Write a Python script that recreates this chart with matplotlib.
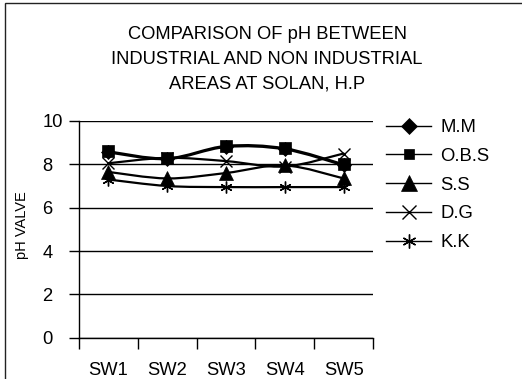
import numpy as np
import matplotlib
matplotlib.use("Agg")
from matplotlib import pyplot as plt
from matplotlib.path import Path
from matplotlib.patches import PathPatch, Rectangle
from matplotlib.lines import Line2D

plt.rcParams['font.family'] = ['Liberation Sans', 'DejaVu Sans']

# data
sites = ["SW1", "SW2", "SW3", "SW4", "SW5"]
mm = [8.55, 8.24, 8.8, 8.69, 7.95]
obs = [8.6, 8.28, 8.85, 8.74, 8.0]
ss = [7.65, 7.35, 7.6, 7.95, 7.35]
dg = [8.05, 8.3, 8.15, 7.9, 8.5]
kk = [7.3, 7.0, 6.95, 6.95, 6.95]

series_names = ["M.M", "O.B.S", "S.S", "D.G", "K.K"]
series_vals = [mm, obs, ss, dg, kk]
markers = ["D", "s", "^", "x", (6, 2, 0)]
msizes = [7, 8, 10.5, 8.5, 8.5]
leg_sizes = [8, 7.5, 11, 9.5, 10]
title = "COMPARISON OF pH BETWEEN\nINDUSTRIAL AND NON INDUSTRIAL\nAREAS AT SOLAN, H.P"


def smooth_path(xs, ys):
    # excel style smoothed line: catmull-rom segments as cubic beziers
    p = np.column_stack([xs, ys]).astype(float)
    n = len(p)
    verts = [p[0]]
    codes = [Path.MOVETO]
    for i in range(n - 1):
        prev = p[i - 1] if i > 0 else p[i]
        nxt = p[i + 2] if i + 2 < n else p[i + 1]
        c1 = p[i] + (p[i + 1] - prev) / 6.0
        c2 = p[i + 1] - (nxt - p[i]) / 6.0
        verts += [c1, c2, p[i + 1]]
        codes += [Path.CURVE4] * 3
    return Path(verts, codes)


W, H = 522, 379
fig = plt.figure(figsize=(W / 100, H / 100), dpi=100)
ax = fig.add_axes([79 / W, 1 - 337.7 / H, (373 - 79) / W, (337.7 - 121) / H])

x = np.arange(1, len(sites) + 1)

for k, (name, vals) in enumerate(zip(series_names, series_vals)):
    patch = PathPatch(smooth_path(x, vals), fill=False, edgecolor="black",
                      lw=1.6, zorder=3 + k * 2, capstyle="round", joinstyle="round")
    ax.add_patch(patch)
    thin = markers[k] == "x" or isinstance(markers[k], tuple)
    ax.plot(x, vals, linestyle="none", marker=markers[k], markersize=msizes[k],
            color="black", markeredgewidth=1.0 if thin else 0.5,
            zorder=4 + k * 2)

ax.set_xlim(0.5, len(sites) + 0.5)
ax.set_ylim(0, 10)

# gridlines and spines
ax.set_yticks(np.arange(0, 11, 2))
ax.yaxis.grid(True, color="black", lw=1.0)
ax.set_axisbelow(True)
for s in ["top", "right"]:
    ax.spines[s].set_visible(False)
ax.spines["left"].set_linewidth(1.0)
ax.spines["bottom"].set_linewidth(1.0)

# category ticks at boundaries, labels at centres
ax.set_xticks(np.arange(0.5, len(sites) + 1, 1))
ax.set_xticklabels([])
ax.set_xticks(x, minor=True)
ax.set_xticklabels(sites, minor=True, fontsize=13.2)
ax.tick_params(axis="x", which="major", direction="out", length=8, width=1.0)
ax.tick_params(axis="x", which="minor", length=0, pad=17.5)
ax.tick_params(axis="y", direction="out", length=7, width=1.0, labelsize=13.2, pad=19.5)
for lab in ax.get_yticklabels():
    lab.set_ha("left")

fig.text(267 / W, 1 - 59 / H, title, ha="center", va="center",
         fontsize=13.2, linespacing=1.6)
fig.text(22 / W, 1 - 225 / H, "pH VALVE", rotation=90, ha="center", va="center",
         fontsize=10.5)

handles = [Line2D([], [], color="black", lw=1.0, marker=markers[k],
                  markersize=leg_sizes[k], markeredgewidth=1.0 if k > 2 else 0.5)
           for k in range(len(series_names))]
ax.legend(handles, series_names, loc="upper left",
          bbox_to_anchor=(386 / W, 1 - 119 / H), bbox_transform=fig.transFigure,
          frameon=False, fontsize=13.3, handlelength=2.45, handletextpad=0.5,
          labelspacing=0.64, borderpad=0, borderaxespad=0)

# outer frame, only top and left show in the crop
fig.add_artist(Rectangle((4.5 / W, -0.2), 1.5, 1 - 2.7 / H + 0.2,
                         transform=fig.transFigure, fill=False,
                         edgecolor="#222222", lw=1.0))

fig.savefig("out.png", dpi=100)
